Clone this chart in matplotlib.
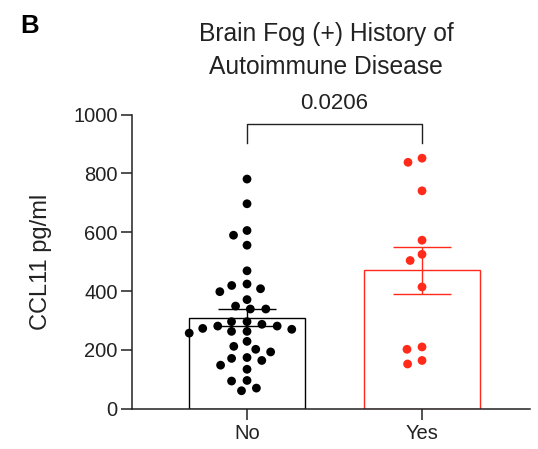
import numpy as np
import matplotlib
matplotlib.use("Agg")
import matplotlib.pyplot as plt

plt.rcParams['font.family'] = ['Liberation Sans', 'DejaVu Sans']

# CCL11 (pg/ml) valeurs
groupes = ["No", "Yes"]
valeurs_no = [781, 697, 606, 590, 556, 469, 424, 419, 408, 398, 371,
              349, 339, 339, 296, 296, 287, 281, 281, 273, 270, 263,
              263, 257, 229, 212, 202, 193, 174, 171, 164, 148, 134,
              96, 94, 70, 61]
valeurs_yes = [852, 838, 741, 573, 525, 504, 414, 210, 202, 164, 152]
p_valeur = "0.0206"

couleurs = ["black", "#ff2a1a"]
texte = "#222222"


def essaim(y_px, d_x, d_y):
    # placement type beeswarm (ellipse d_x / d_y en pixels)
    y_px = np.asarray(y_px) * d_x / d_y
    d = d_x
    ordre = np.argsort(-y_px, kind="stable")
    places = []
    dx_out = np.zeros(len(y_px))
    for i in ordre:
        y = y_px[i]
        voisins = [(px, py) for px, py in places if abs(py - y) < d]
        cands = [0.0]
        for px, py in voisins:
            h = np.sqrt(d ** 2 - (py - y) ** 2)
            cands += [px - h, px + h]
        cands.sort(key=lambda c: (round(abs(c), 6), c))
        for c in cands:
            if all((c - px) ** 2 + (y - py) ** 2 >= d ** 2 - 1e-6 for px, py in voisins):
                dx_out[i] = c
                places.append((c, y))
                break
    return dx_out


fig = plt.figure(figsize=(5.38, 4.49), dpi=100)
ax = fig.add_axes([0.2448, 0.0898, 0.7403, 0.6548])
ax.set_xlim(-0.659, 1.617)
ax.set_ylim(0, 1000)

for i, (vals, c) in enumerate(zip([valeurs_no, valeurs_yes], couleurs)):
    vals = np.array(vals, dtype=float)
    moy = vals.mean()
    sem = vals.std(ddof=1) / np.sqrt(len(vals))
    ax.bar(i, moy, width=0.66, facecolor="white", edgecolor=c, linewidth=1.0, zorder=1)

    # positions des points en pixels -> données
    pts = ax.transData.transform(np.column_stack([np.full(len(vals), i), vals]))
    dx = essaim(pts[:, 1], 15.5, 9.6)
    pts[:, 0] += dx
    xy = ax.transData.inverted().transform(pts)
    ax.scatter(xy[:, 0], vals, s=40, color=c, edgecolors="none", zorder=3)

    ax.errorbar(i, moy, yerr=sem, color=c, elinewidth=1.0, capsize=21,
                capthick=1.0, zorder=4)

# crochet de significativité
ax.plot([0, 0, 1, 1], [905, 968, 968, 905], color=texte, lw=1.0, clip_on=False)
ax.text(0.5, 1018, p_valeur, ha="center", va="baseline", fontsize=16, color=texte)

for s in ["top", "right"]:
    ax.spines[s].set_visible(False)
for s in ["left", "bottom"]:
    ax.spines[s].set_linewidth(1.1)
    ax.spines[s].set_color(texte)

ax.set_yticks([0, 200, 400, 600, 800, 1000])
ax.set_xticks([0, 1])
ax.set_xticklabels(groupes)
ax.tick_params(axis="y", length=7.7, width=1.1, pad=2.5, labelsize=14.5, colors=texte)
ax.tick_params(axis="x", length=8, width=1.1, pad=3, labelsize=14.5, colors=texte)

ax.set_ylabel("CCL11 pg/ml", fontsize=17, color=texte)
ax.yaxis.set_label_coords(-0.200, 0.5)

fig.text(326 / 538, 1 - 40.7 / 449, "Brain Fog (+) History of", ha="center",
         va="baseline", fontsize=17.7, color=texte)
fig.text(326 / 538, 1 - 74 / 449, "Autoimmune Disease", ha="center",
         va="baseline", fontsize=17.7, color=texte)
fig.text(20 / 538, 1 - 33.3 / 449, "B", ha="left", va="baseline",
         fontsize=18.5, fontweight="bold", color="black")

fig.savefig("out.png", dpi=100)
